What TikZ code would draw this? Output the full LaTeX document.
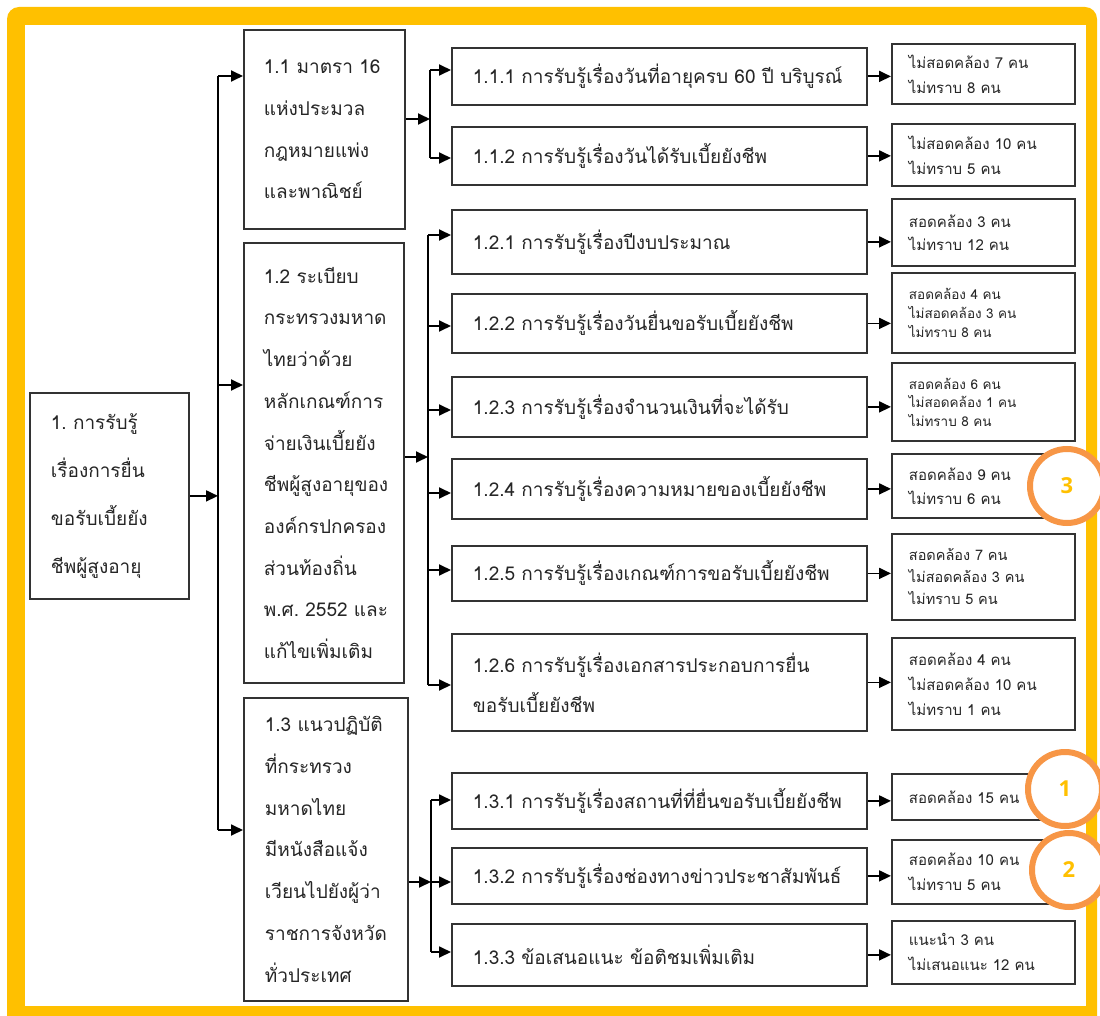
\documentclass[tikz,border=0pt]{standalone}
\usepackage{fontspec}
\usetikzlibrary{arrows.meta}
\newfontfamily\thaifont[Script=Thai,WordSpace=0.65]{Loma}
\newfontfamily\numfont{Open Sans}
\definecolor{frameY}{HTML}{FFC000}
\definecolor{ringO}{HTML}{F79646}
\definecolor{boxc}{HTML}{333333}
\definecolor{txtc}{HTML}{262626}
\begin{document}
\begin{tikzpicture}[x=1pt,y=-1pt,
 bx/.style={draw=boxc, line width=1.8pt, fill=white, anchor=north west, align=left, inner ysep=0pt, text=txtc},
 lvtwo/.style={bx, inner xsep=20pt, font=\thaifont\fontsize{19}{41.7}\selectfont},
 lvthree/.style={bx, inner xsep=21pt, minimum width=415pt, text width=373pt, font=\thaifont\fontsize{19}{40}\selectfont},
 res/.style={bx, inner xsep=17pt, minimum width=183pt, text width=149pt, font=\thaifont\fontsize{15}{25}\selectfont},
 arr/.style={line width=1.8pt, -{Triangle[length=12pt,width=11pt]}},
 ln/.style={line width=1.8pt},
 ring/.style={circle, draw=ringO, line width=6pt, fill=white, minimum size=74pt, inner sep=0pt, font=\numfont\bfseries\fontsize{22}{22}\selectfont, text=frameY}
]
\useasboundingbox (0,0) rectangle (1100,1016);
\fill[white] (0,0) rectangle (1100,1016);
\fill[frameY, rounded corners=12pt] (7,7) rectangle (1097,1040);
\fill[white] (25,25) rectangle (1086,1006);

% level 1 and 2
\node[lvtwo, inner xsep=21pt, minimum width=159pt, minimum height=206pt, text width=117pt, font=\thaifont\fontsize{19}{48}\selectfont] (b1) at (29,392) {1.~การรับรู้\\เรื่องการยื่น\\ขอรับเบี้ยยัง\\ชีพผู้สูงอายุ};
\node[lvtwo, minimum width=161pt, minimum height=199pt, text width=121pt] (b11) at (243,29) {1.1~มาตรา~16\\แห่งประมวล\\กฎหมายแพ่ง\\และพาณิชย์};
\node[lvtwo, minimum width=160pt, minimum height=440pt, text width=120pt] (b12) at (243,242) {1.2~ระเบียบ\\กระทรวงมหาด\\ไทยว่าด้วย\\หลักเกณฑ์การ\\จ่ายเงินเบี้ยยัง\\ชีพผู้สูงอายุของ\\องค์กรปกครอง\\ส่วนท้องถิ่น\\พ.ศ.~2552~และ\\แก้ไขเพิ่มเติม};
\node[lvtwo, inner xsep=21pt, minimum width=164pt, minimum height=303pt, text width=122pt] (b13) at (243,697) {1.3~แนวปฏิบัติ\\ที่กระทรวง\\มหาดไทย\\มีหนังสือแจ้ง\\เวียนไปยังผู้ว่า\\ราชการจังหวัด\\ทั่วประเทศ};

% level 3
\node[lvthree, minimum height=57pt] (b111) at (451,47) {1.1.1 การรับรู้เรื่องวันที่อายุครบ 60 ปี บริบูรณ์};
\node[lvthree, minimum height=58pt] (b112) at (451,126) {1.1.2 การรับรู้เรื่องวันได้รับเบี้ยยังชีพ};
\node[lvthree, minimum height=64pt] (b121) at (451,209) {1.2.1 การรับรู้เรื่องปีงบประมาณ};
\node[lvthree, minimum height=59pt] (b122) at (451,293) {1.2.2 การรับรู้เรื่องวันยื่นขอรับเบี้ยยังชีพ};
\node[lvthree, minimum height=60pt] (b123) at (451,376) {1.2.3 การรับรู้เรื่องจำนวนเงินที่จะได้รับ};
\node[lvthree, minimum height=60pt] (b124) at (451,458) {1.2.4 การรับรู้เรื่องความหมายของเบี้ยยังชีพ};
\node[lvthree, minimum height=55pt] (b125) at (451,545) {1.2.5 การรับรู้เรื่องเกณฑ์การขอรับเบี้ยยังชีพ};
\node[lvthree, minimum height=97pt] (b126) at (451,633) {1.2.6 การรับรู้เรื่องเอกสารประกอบการยื่น\\ขอรับเบี้ยยังชีพ};
\node[lvthree, minimum height=56pt] (b131) at (451,772) {1.3.1 การรับรู้เรื่องสถานที่ที่ยื่นขอรับเบี้ยยังชีพ};
\node[lvthree, minimum height=56pt] (b132) at (451,847) {1.3.2 การรับรู้เรื่องช่องทางข่าวประชาสัมพันธ์};
\node[lvthree, minimum height=62pt] (b133) at (451,923) {1.3.3 ข้อเสนอแนะ ข้อติชมเพิ่มเติม};

% results
\node[res, minimum height=60pt] (r111) at (891,43) {ไม่สอดคล้อง 7 คน\\ไม่ทราบ 8 คน};
\node[res, minimum height=62pt] (r112) at (891,123) {ไม่สอดคล้อง 10 คน\\ไม่ทราบ 5 คน};
\node[res, minimum height=67pt, font=\thaifont\fontsize{15}{23}\selectfont] (r121) at (891,198) {สอดคล้อง 3 คน\\ไม่ทราบ 12 คน};
\node[res, minimum height=80pt, font=\thaifont\fontsize{13.5}{18.5}\selectfont] (r122) at (891,272) {สอดคล้อง 4 คน\\ไม่สอดคล้อง 3 คน\\ไม่ทราบ 8 คน};
\node[res, minimum height=78pt, font=\thaifont\fontsize{13.5}{18.5}\selectfont] (r123) at (891,362) {สอดคล้อง 6 คน\\ไม่สอดคล้อง 1 คน\\ไม่ทราบ 8 คน};
\node[res, minimum height=64pt, font=\thaifont\fontsize{15}{24}\selectfont] (r124) at (891,453) {สอดคล้อง 9 คน\\ไม่ทราบ 6 คน};
\node[res, minimum height=86pt, font=\thaifont\fontsize{14.5}{22}\selectfont] (r125) at (891,533) {สอดคล้อง 7 คน\\ไม่สอดคล้อง 3 คน\\ไม่ทราบ 5 คน};
\node[res, minimum height=92pt] (r126) at (891,637) {สอดคล้อง 4 คน\\ไม่สอดคล้อง 10 คน\\ไม่ทราบ 1 คน};
\node[res, minimum height=46pt] (r131) at (891,773) {สอดคล้อง 15 คน};
\node[res, minimum height=64pt] (r132) at (891,839) {สอดคล้อง 10 คน\\ไม่ทราบ 5 คน};
\node[res, minimum height=63pt] (r133) at (891,920) {แนะนำ 3 คน\\ไม่เสนอแนะ 12 คน};

% junction coordinates
\coordinate (t0a) at (218,76);
\coordinate (t0b) at (218,385);
\coordinate (t0c) at (218,830);
\coordinate (j1a) at (430,70);
\coordinate (j1m) at (430,119);
\coordinate (j1b) at (430,158);
\coordinate (j2a) at (428,235);
\coordinate (j2b) at (428,326);
\coordinate (j2c) at (428,410);
\coordinate (j2m) at (428,457);
\coordinate (j2d) at (428,493);
\coordinate (j2e) at (428,570);
\coordinate (j2f) at (428,685);
\coordinate (j3a) at (431,800);
\coordinate (j3m) at (431,882);
\coordinate (j3c) at (431,952);

% level 1 -> 2
\draw[ln] (t0a) -- (t0c);
\draw[arr] (b1.east) -- (b1.east -| t0a);
\draw[arr] (t0a) -- (t0a -| b11.west);
\draw[arr] (t0b) -- (t0b -| b12.west);
\draw[arr] (t0c) -- (t0c -| b13.west);

% 1.1 -> 1.1.x
\draw[ln] (j1a) -- (j1b);
\draw[arr] (b11.east |- j1m) -- (j1m);
\draw[arr] (j1a) -- (j1a -| b111.west);
\draw[arr] (j1b) -- (j1b -| b112.west);

% 1.2 -> 1.2.x
\draw[ln] (j2a) -- (j2f);
\draw[arr] (b12.east |- j2m) -- (j2m);
\draw[arr] (j2a) -- (j2a -| b121.west);
\draw[arr] (j2b) -- (j2b -| b122.west);
\draw[arr] (j2c) -- (j2c -| b123.west);
\draw[arr] (j2d) -- (j2d -| b124.west);
\draw[arr] (j2e) -- (j2e -| b125.west);
\draw[arr] (j2f) -- (j2f -| b126.west);

% 1.3 -> 1.3.x
\draw[ln] (j3a) -- (j3c);
\draw[arr] (b13.east |- j3m) -- (j3m);
\draw[arr] (j3a) -- (j3a -| b131.west);
\draw[arr] (j3m) -- (j3m -| b132.west);
\draw[arr] (j3c) -- (j3c -| b133.west);

% level 3 -> results
\foreach \a/\b in {b111/r111,b112/r112,b121/r121,b122/r122,b123/r123,b124/r124,b125/r125,b126/r126,b131/r131,b132/r132,b133/r133}
  \draw[arr] (\a.east) -- (\a.east -| \b.west);

% markers
\node[ring] (c3) at (1067,486) {3};
\node[ring] (c1) at (1065,789) {1};
\node[ring] (c2) at (1069,870) {2};
\end{tikzpicture}
\end{document}
